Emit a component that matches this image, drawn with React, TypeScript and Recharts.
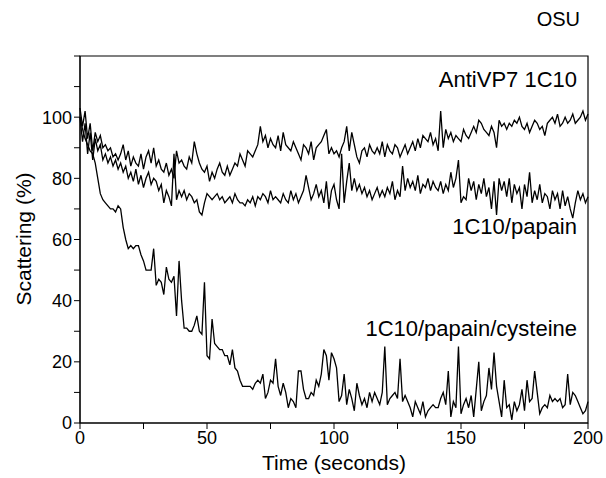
import {
  LineChart,
  Line,
  XAxis,
  YAxis,
  ReferenceArea,
} from "recharts";

// one reading per second, 0..200 s
const antiVP7 = [
  103, 97, 102, 93, 98, 89, 95, 92, 94, 90,
  91, 89, 90, 87, 88, 86, 88, 91, 86, 89,
  84, 87, 85, 84, 88, 83, 87, 89, 85, 90,
  84, 86, 83, 82, 85, 81, 83, 80, 89, 85,
  86, 84, 83, 87, 85, 92, 88, 85, 83, 82,
  84, 79, 82, 80, 83, 85, 82, 81, 84, 81,
  83, 85, 84, 88, 86, 84, 89, 88, 87, 89,
  91, 97, 92, 94, 90, 93, 91, 90, 94, 89,
  95, 91, 90, 89, 92, 90, 88, 86, 91, 90,
  88, 92, 86, 90, 91, 92, 94, 96, 88, 90,
  88, 89, 87, 90, 92, 97, 89, 95, 91, 87,
  85, 89, 90, 87, 91, 89, 88, 90, 88, 92,
  87, 91, 89, 88, 91, 90, 87, 89, 91, 88,
  90, 92, 89, 93, 90, 94, 93, 92, 95, 91,
  93, 89, 102, 90, 96, 93, 95, 92, 94, 93,
  92, 96, 94, 93, 95, 97, 95, 99, 98, 96,
  95, 94, 97, 95, 90, 99, 97, 98, 96, 98,
  97, 99, 98, 100, 97, 96, 98, 95, 97, 99,
  98, 96, 97, 94, 98, 99, 100, 98, 101, 97,
  98, 100, 98, 99, 101, 98, 99, 100, 102, 99,
  101,
];

const papain = [
  100, 92, 98, 88, 95, 86, 93, 89, 91, 86,
  88, 85, 87, 84, 86, 83, 85, 82, 84, 80,
  82, 79, 83, 78, 81, 77, 80, 82, 78, 80,
  79, 76, 78, 72, 76, 74, 71, 88, 73, 76,
  74, 76, 73, 75, 74, 72, 73, 69, 68, 72,
  75, 74, 73, 74, 75, 73, 74, 72, 73, 74,
  72, 75, 73, 72, 72, 71, 73, 72, 74, 71,
  74, 73, 75, 74, 72, 76, 73, 74, 73, 72,
  75, 73, 72, 76, 73, 75, 72, 74, 76, 81,
  77, 73, 75, 78, 74, 76, 72, 79, 70, 76,
  78, 73, 70, 88, 72, 79, 85, 76, 80, 76,
  78, 75, 77, 74, 76, 73, 75, 77, 74, 76,
  74, 77, 75, 79, 73, 76, 74, 84, 76, 80,
  77, 79, 76, 81, 75, 78, 77, 80, 76, 79,
  77, 76, 79, 75, 78, 76, 82, 77, 80, 86,
  72, 74, 73, 80, 76, 79, 73, 78, 75, 80,
  74, 77, 70, 79, 68, 80, 76, 79, 74, 80,
  72, 78, 75, 77, 70, 78, 74, 82, 72, 76,
  73, 78, 72, 75, 74, 70, 76, 73, 75, 70,
  76, 71, 74, 70, 67, 72, 76, 73, 75, 72,
  74,
];

const cysteine = [
  100, 96, 93, 91, 89, 88, 85, 80, 75, 73,
  72, 71, 70, 70, 69, 71, 70, 64, 60, 57,
  58, 57, 58, 58, 55, 53, 50, 50, 50, 57,
  45, 47, 46, 42, 51, 47, 46, 48, 35, 53,
  40, 31, 31, 30, 30, 32, 35, 30, 29, 46,
  22, 21, 34, 26, 25, 24, 24, 22, 22, 19,
  24, 18, 17, 14, 12, 12, 12, 12, 11, 13,
  14, 13, 16, 8, 10, 14, 13, 21, 12, 9,
  13, 10, 5, 8, 7, 5, 17, 17, 11, 8,
  8, 10, 9, 14, 12, 16, 24, 22, 14, 23,
  21, 18, 7, 9, 16, 6, 11, 8, 4, 13,
  9, 6, 8, 5, 10, 7, 10, 8, 6, 10,
  25, 6, 8, 9, 10, 8, 21, 7, 9, 7,
  5, 2, 7, 5, 3, 7, 2, 4, 5, 6,
  5, 5, 8, 10, 6, 17, 2, 7, 5, 25,
  3, 6, 8, 5, 9, 2, 11, 20, 4, 7,
  9, 18, 11, 23, 12, 7, 2, 14, 5, 6,
  1, 7, 4, 6, 11, 4, 14, 7, 8, 17,
  10, 3, 5, 6, 5, 9, 7, 8, 7, 8,
  5, 6, 16, 6, 10, 9, 7, 5, 3, 4,
  7,
];

const SAMPLE_STEP = 1;
const xTicks = [0, 25, 50, 75, 100, 125, 150, 175, 200];
const yTicks = [0, 10, 20, 30, 40, 50, 60, 70, 80, 90, 100, 110, 120];
const xLabels = [0, 50, 100, 150, 200];
const yLabels = [0, 20, 40, 60, 80, 100];

const data = antiVP7.map((v, i) => ({
  t: i * SAMPLE_STEP,
  antiVP7: v,
  papain: papain[i],
  cysteine: cysteine[i],
}));

const FONT = "'Liberation Sans', Arial, sans-serif";

export default function App() {
  return (
    <div
      style={{
        position: "absolute",
        left: 0,
        top: 0,
        width: 606,
        height: 478,
        background: "#fff",
        fontFamily: FONT,
      }}
    >
      <LineChart
        width={606}
        height={478}
        data={data}
        margin={{ top: 56, right: 18, bottom: 0, left: 0 }}
      >
        <XAxis
          dataKey="t"
          type="number"
          domain={[0, 200]}
          ticks={xTicks}
          interval={0}
          height={55}
          stroke="#000"
          tickSize={6}
          tick={{ fill: "#000", fontSize: 18, fontFamily: FONT }}
          tickFormatter={(v) => (xLabels.includes(v) ? String(v) : "")}
          label={{
            value: "Time (seconds)",
            position: "insideBottom",
            offset: 8,
            fill: "#000",
            fontSize: 21,
            fontFamily: FONT,
          }}
        />
        <YAxis
          type="number"
          domain={[0, 120]}
          ticks={yTicks}
          interval={0}
          width={80}
          stroke="#000"
          tickSize={6}
          tick={{ fill: "#000", fontSize: 18, fontFamily: FONT }}
          tickFormatter={(v) => (yLabels.includes(v) ? String(v) : "")}
          label={{
            value: "Scattering (%)",
            angle: -90,
            position: "insideLeft",
            offset: 24,
            dy: 66,
            fill: "#000",
            fontSize: 21,
            fontFamily: FONT,
          }}
        />
        <ReferenceArea
          x1={0}
          x2={200}
          y1={0}
          y2={120}
          fill="none"
          stroke="#000"
          strokeWidth={1.2}
        />
        <Line
          type="linear"
          dataKey="antiVP7"
          stroke="#000"
          strokeWidth={1.3}
          dot={false}
          isAnimationActive={false}
        />
        <Line
          type="linear"
          dataKey="papain"
          stroke="#000"
          strokeWidth={1.3}
          dot={false}
          isAnimationActive={false}
        />
        <Line
          type="linear"
          dataKey="cysteine"
          stroke="#000"
          strokeWidth={1.3}
          dot={false}
          isAnimationActive={false}
        />
      </LineChart>
      <div style={{ position: "absolute", right: 26, top: 8, fontSize: 20 }}>
        OSU
      </div>
      <div style={{ position: "absolute", right: 29, top: 67, fontSize: 22 }}>
        AntiVP7 1C10
      </div>
      <div style={{ position: "absolute", right: 29, top: 214, fontSize: 22 }}>
        1C10/papain
      </div>
      <div style={{ position: "absolute", right: 29, top: 316, fontSize: 22 }}>
        1C10/papain/cysteine
      </div>
    </div>
  );
}
